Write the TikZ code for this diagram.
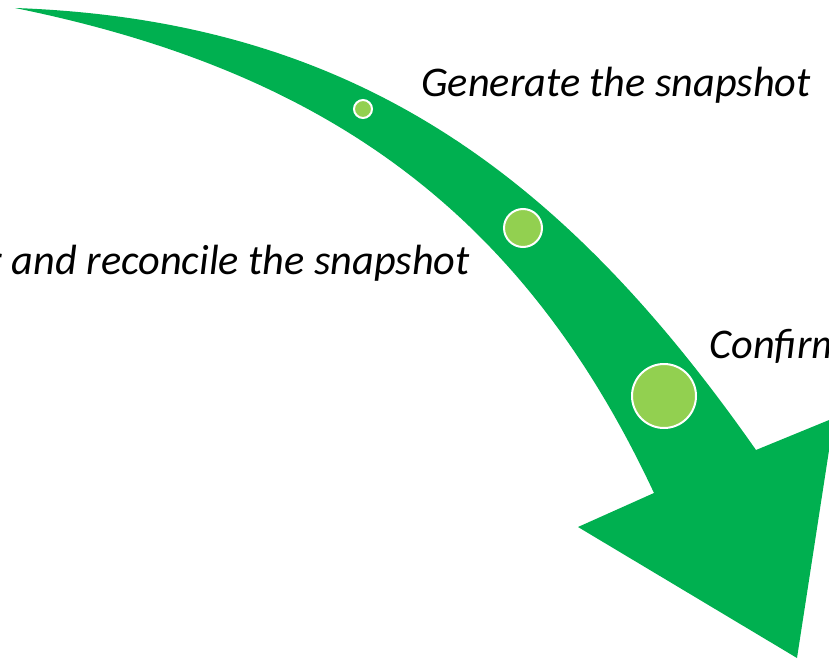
\documentclass[tikz,border=0pt]{standalone}
\usepackage{fontspec}
\setmainfont{Carlito}
\usepackage{xcolor}
\usepackage{tikz}

\definecolor{arrowgreen}{HTML}{00B050}
\definecolor{dotgreen}{HTML}{92D050}

\tikzset{
  stepdot/.style={circle, fill=dotgreen, draw=white, line width=1.5pt, inner sep=0pt},
  steplabel/.style={font=\itshape\fontsize{31.7}{38}\selectfont, inner sep=0pt},
}

\begin{document}
\begin{tikzpicture}[x=0.75pt, y=-0.75pt]
\useasboundingbox (0,0) rectangle (829,660);
\clip (0,0) rectangle (829,660);

% ========= 箭头 =========
% 尾尖在左上，箭头尖在右下
\coordinate (tail) at (15,8);
\coordinate (rnotch) at (756,450);
\coordinate (rbarb) at (834,418);
\coordinate (tip) at (797,658);
\coordinate (lbarb) at (578,527);
\coordinate (lnotch) at (654,493);
\fill[arrowgreen] (tail) .. controls (353,20) and (562,173) .. (rnotch)
  -- (rbarb) -- (tip) -- (lbarb) -- (lnotch)
  .. controls (521,208) and (320,70) .. (tail) -- cycle;

% ========= 圆点 =========
\node[stepdot, minimum size=13.5pt] (dot1) at (363,109) {};
\node[stepdot, minimum size=28.5pt] (dot2) at (523,228) {};
\node[stepdot, minimum size=48pt] (dot3) at (664,396) {};

% ========= 文字 =========
\node[steplabel, anchor=base west] (gen) at (421,97) {Generate the snapshot};
\node[steplabel, anchor=base east] (rec) at (470,274) {r and reconcile the snapshot};
\node[steplabel, anchor=base west] (conf) at (709,358) {Confirm};
\end{tikzpicture}
\end{document}
